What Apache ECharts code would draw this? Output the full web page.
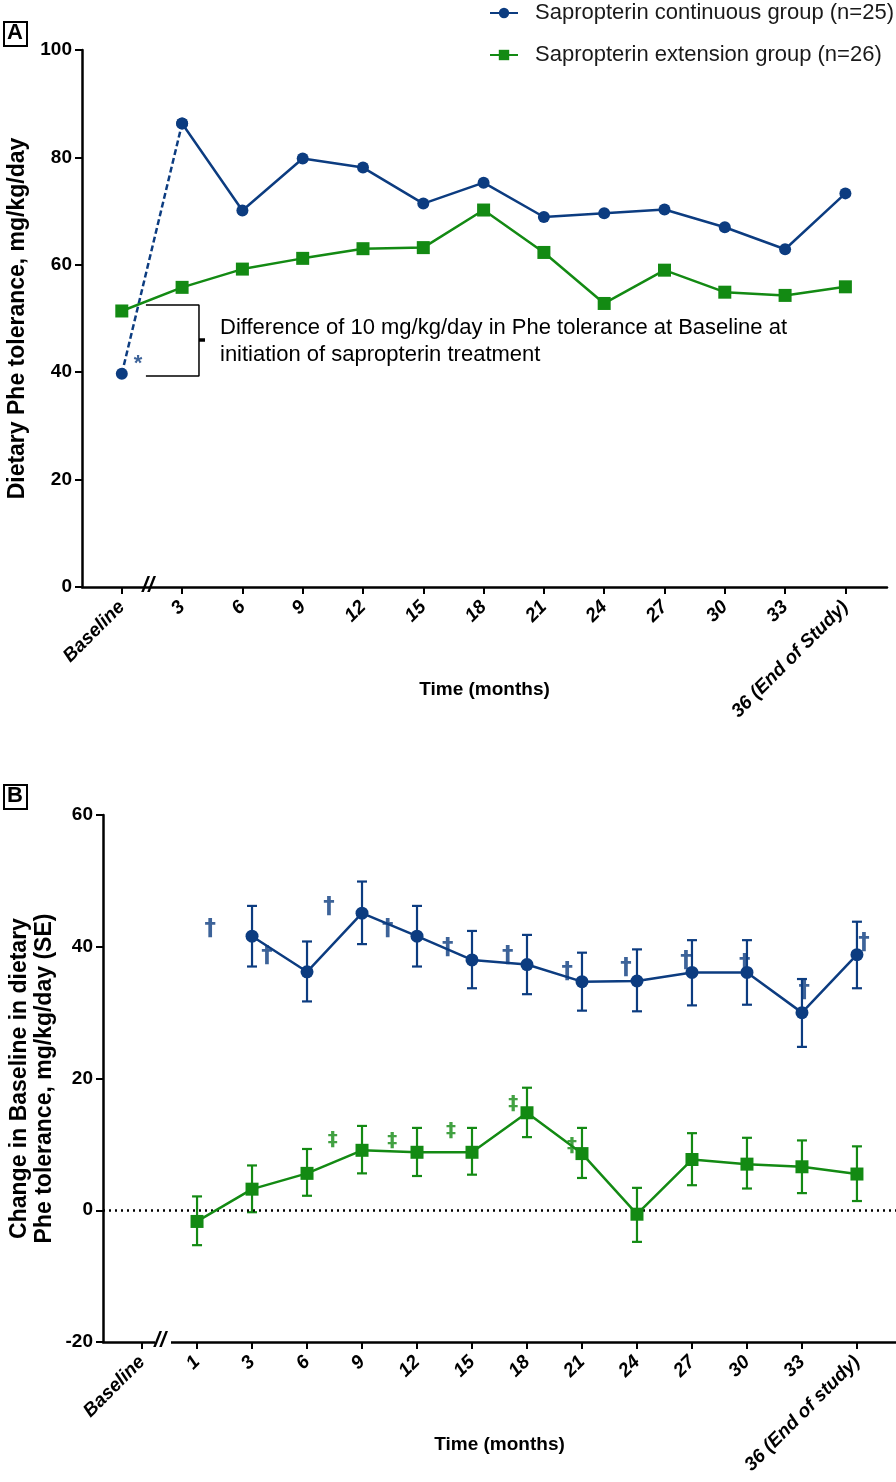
<!DOCTYPE html>
<html>
<head>
<meta charset="utf-8">
<script src="https://cdn.jsdelivr.net/npm/echarts@6/dist/echarts.min.js"></script>
<style>html,body{margin:0;padding:0;background:#fff}#c{width:896px;height:1482px}</style>
</head>
<body>
<div id="c"></div>
<script>
// ---------- Panel A data ----------
const catsA = ['Baseline','3','6','9','12','15','18','21','24','27','30','33','36 (End of Study)'];
const contA = [39.7, 86.3, 70.1, 79.8, 78.1, 71.4, 75.3, 68.9, 69.6, 70.3, 67.0, 62.9, 73.3];
const extA  = [51.4, 55.8, 59.2, 61.2, 63.0, 63.2, 70.2, 62.3, 52.8, 59.0, 54.9, 54.3, 55.9];

// ---------- Panel B data ----------
const catsB = ['Baseline','1','3','6','9','12','15','18','21','24','27','30','33','36 (End of study)'];
const contB     = [null, null, 41.6, 36.2, 45.1, 41.6, 38.0, 37.3, 34.7, 34.8, 36.1, 36.1, 30.0, 38.8];
const contBLow  = [null, null, 37.0, 31.7, 40.4, 37.0, 33.7, 32.8, 30.3, 30.2, 31.1, 31.2, 24.8, 33.7];
const contBHigh = [null, null, 46.2, 40.8, 49.9, 46.2, 42.4, 41.8, 39.1, 39.6, 41.0, 41.0, 35.1, 43.8];
const extB      = [null, -1.7, 3.2, 5.6, 9.1, 8.8, 8.8, 14.8, 8.6, -0.6, 7.7, 7.0, 6.6, 5.5];
const extBLow   = [null, -5.3, -0.3, 2.2, 5.6, 5.2, 5.4, 11.1, 4.9, -4.8, 3.8, 3.3, 2.6, 1.4];
const extBHigh  = [null, 2.1, 6.8, 9.3, 12.8, 12.5, 12.5, 18.6, 12.5, 3.4, 11.7, 11.0, 10.6, 9.7];

// annotation marks (data space)
const daggerB = [[1.24,42.7],[2.27,38.6],[3.40,46.1],[4.47,42.7],[5.56,39.8],[6.65,38.6],[7.73,36.1],[8.80,36.7],[9.89,37.9],[10.96,37.4],[12.04,33.3],[13.13,40.5]];
const ddaggerB = [[3.47,10.7],[4.55,10.6],[5.62,12.0],[6.75,16.2],[7.82,9.8]];

const nameC = 'Sapropterin continuous group (n=25)';
const nameE = 'Sapropterin extension group (n=26)';
const BLUE = '#0c3c80';
const GREEN = '#138a13';
const FONT = 'Liberation Sans, Arial, sans-serif';

const idxA = catsA.map((_, i) => i);
const idxB = catsB.map((_, i) => i);

function pairs(arr) { const out = []; arr.forEach((v, i) => { if (v !== null) out.push([i, v]); }); return out; }
function errData(lo, hi) { const out = []; lo.forEach((v, i) => { if (v !== null) out.push([i, v, hi[i]]); }); return out; }
function errSeries(data, color) {
  return {
    type: 'custom', xAxisIndex: 1, yAxisIndex: 1, silent: true, z: 3,
    data: data,
    renderItem: function (params, api) {
      const x = api.value(0);
      const p1 = api.coord([x, api.value(1)]);
      const p2 = api.coord([x, api.value(2)]);
      const w = 5;
      const st = { stroke: color, lineWidth: 2.2 };
      return { type: 'group', children: [
        { type: 'line', shape: { x1: p1[0], y1: p1[1], x2: p2[0], y2: p2[1] }, style: st },
        { type: 'line', shape: { x1: p1[0]-w, y1: p1[1], x2: p1[0]+w, y2: p1[1] }, style: st },
        { type: 'line', shape: { x1: p2[0]-w, y1: p2[1], x2: p2[0]+w, y2: p2[1] }, style: st }
      ]};
    }
  };
}

const axisLine = { show: true, onZero: false, lineStyle: { color: '#000', width: 2.5 } };
const tickStyle = { show: true, length: 7, lineStyle: { color: '#000', width: 2 } };
const xLabel = (cats, vals) => ({ customValues: vals, rotate: 45, margin: 17, color: '#000', fontSize: 19, fontWeight: 'bold', fontStyle: 'italic', fontFamily: FONT, formatter: v => cats[Math.round(v)] });
const yLabel = { color: '#000', fontSize: 19, fontWeight: 'bold', fontFamily: FONT, margin: 10 };
const nameStyle = { color: '#000', fontSize: 19, fontWeight: 'bold', fontFamily: FONT };
const yNameStyle = { color: '#000', fontSize: 23, fontWeight: 'bold', fontFamily: FONT };

const chart = echarts.init(document.getElementById('c'), null, { renderer: 'canvas' });
chart.setOption({
  animation: false,
  backgroundColor: '#fff',
  legend: {
    data: [nameC, nameE], orient: 'vertical', left: 484, top: -4,
    itemWidth: 28, itemHeight: 13, itemGap: 18,
    textStyle: { fontSize: 22, color: '#1a1a1a', fontFamily: FONT, padding: [0, 0, 0, 12], lineHeight: 24 }
  },
  grid: [
    { left: 82, top: 50, width: 805, height: 537, containLabel: false, outerBoundsMode: 'none' },
    { left: 103, top: 815, width: 793, height: 527, containLabel: false, outerBoundsMode: 'none' }
  ],
  xAxis: [
    { type: 'value', gridIndex: 0, min: -0.66, max: 12.69, splitLine: { show: false },
      axisLine: axisLine, axisTick: Object.assign({ customValues: idxA }, tickStyle), axisLabel: xLabel(catsA, idxA),
      name: 'Time (months)', nameLocation: 'middle', nameGap: 93, nameMoveOverlap: false, nameTextStyle: nameStyle },
    { type: 'value', gridIndex: 1, min: -0.71, max: 13.71, splitLine: { show: false },
      axisLine: axisLine, axisTick: Object.assign({ customValues: idxB }, tickStyle), axisLabel: xLabel(catsB, idxB),
      name: 'Time (months)', nameLocation: 'middle', nameGap: 93, nameMoveOverlap: false, nameTextStyle: nameStyle }
  ],
  yAxis: [
    { type: 'value', gridIndex: 0, min: 0, max: 100, interval: 20, splitLine: { show: false },
      axisLine: axisLine, axisTick: tickStyle, axisLabel: yLabel,
      name: 'Dietary Phe tolerance, mg/kg/day', nameLocation: 'middle', nameGap: 53, nameMoveOverlap: false, nameTextStyle: yNameStyle },
    { type: 'value', gridIndex: 1, min: -20, max: 60, interval: 20, splitLine: { show: false },
      axisLine: axisLine, axisTick: tickStyle, axisLabel: yLabel,
      name: 'Change in Baseline in dietary\nPhe tolerance, mg/kg/day (SE)', nameLocation: 'middle', nameGap: 46, nameMoveOverlap: false,
      nameTextStyle: Object.assign({ lineHeight: 25 }, yNameStyle) }
  ],
  series: [
    // Panel A
    { name: 'contDash', type: 'line', xAxisIndex: 0, yAxisIndex: 0, data: pairs(contA).slice(0, 2),
      symbol: 'circle', symbolSize: 12, itemStyle: { color: BLUE }, lineStyle: { color: BLUE, width: 2.5, type: [6, 3] }, z: 4 },
    { name: nameC, type: 'line', xAxisIndex: 0, yAxisIndex: 0, data: pairs(contA).slice(1),
      symbol: 'circle', symbolSize: 12, itemStyle: { color: BLUE }, lineStyle: { color: BLUE, width: 2.5 }, z: 5 },
    { name: nameE, type: 'line', xAxisIndex: 0, yAxisIndex: 0, data: pairs(extA),
      symbol: 'rect', symbolSize: 13, itemStyle: { color: GREEN }, lineStyle: { color: GREEN, width: 2.5 }, z: 5 },
    { name: 'bracket', type: 'line', xAxisIndex: 0, yAxisIndex: 0, silent: true, symbol: 'none',
      data: [[0.40, 52.5], [1.28, 52.5], [1.28, 39.3], [0.40, 39.3]], lineStyle: { color: '#000', width: 1.5 }, z: 2 },
    { name: 'bracketTick', type: 'line', xAxisIndex: 0, yAxisIndex: 0, silent: true, symbol: 'none',
      data: [[1.28, 46.0], [1.38, 46.0]], lineStyle: { color: '#000', width: 3.5 }, z: 2 },
    { name: 'star', type: 'scatter', xAxisIndex: 0, yAxisIndex: 0, silent: true, symbolSize: 0,
      data: [[0.27, 41.5]], label: { show: true, position: 'inside', formatter: '*', color: BLUE, fontSize: 22, fontWeight: 'bold', fontFamily: FONT } },
    // Panel B
    errSeries(errData(contBLow, contBHigh), BLUE),
    errSeries(errData(extBLow, extBHigh), GREEN),
    { name: nameC, type: 'line', xAxisIndex: 1, yAxisIndex: 1, data: pairs(contB),
      symbol: 'circle', symbolSize: 13, itemStyle: { color: BLUE }, lineStyle: { color: BLUE, width: 2.5 }, z: 5 },
    { name: nameE, type: 'line', xAxisIndex: 1, yAxisIndex: 1, data: pairs(extB),
      symbol: 'rect', symbolSize: 13, itemStyle: { color: GREEN }, lineStyle: { color: GREEN, width: 2.5 }, z: 5,
      markLine: { silent: true, symbol: 'none', label: { show: false },
        lineStyle: { color: '#000', width: 2.5, type: [2, 4] }, data: [{ yAxis: 0 }] } },
    { name: 'dagger', type: 'scatter', xAxisIndex: 1, yAxisIndex: 1, silent: true, symbolSize: 0, data: daggerB,
      label: { show: true, position: 'inside', formatter: '†', color: BLUE, fontSize: 23, fontWeight: 'bold', fontFamily: 'DejaVu Sans, sans-serif' } },
    { name: 'ddagger', type: 'scatter', xAxisIndex: 1, yAxisIndex: 1, silent: true, symbolSize: 0, data: ddaggerB,
      label: { show: true, position: 'inside', formatter: '‡', color: GREEN, fontSize: 20, fontWeight: 'bold', fontFamily: 'DejaVu Sans, sans-serif' } }
  ],
  graphic: [
    { type: 'rect', left: 3, top: 21, shape: { width: 23, height: 24 }, style: { fill: '#fff', stroke: '#000', lineWidth: 2 } },
    { type: 'text', left: 7, top: 22, style: { text: 'A', fontSize: 22, fontWeight: 'bold', fontFamily: FONT, fill: '#000' } },
    { type: 'rect', left: 3, top: 784, shape: { width: 23, height: 24 }, style: { fill: '#fff', stroke: '#000', lineWidth: 2 } },
    { type: 'text', left: 7, top: 785, style: { text: 'B', fontSize: 22, fontWeight: 'bold', fontFamily: FONT, fill: '#000' } },
    { type: 'text', left: 220, top: 314, style: { text: 'Difference of 10 mg/kg/day in Phe tolerance at Baseline at\ninitiation of sapropterin treatment', fontSize: 22, lineHeight: 27, fontFamily: FONT, fill: '#000' } },
    { type: 'text', left: 142, top: 575, z: 10, style: { text: '//', fontSize: 22, fontWeight: 'bold', fontStyle: 'italic', fontFamily: FONT, fill: '#000' } },
    { type: 'rect', left: 155, top: 1338, z: 9, shape: { width: 16, height: 8 }, style: { fill: '#fff' } },
    { type: 'text', left: 154, top: 1330, z: 10, style: { text: '//', fontSize: 22, fontWeight: 'bold', fontStyle: 'italic', fontFamily: FONT, fill: '#000' } }
  ]
});
</script>
</body>
</html>
